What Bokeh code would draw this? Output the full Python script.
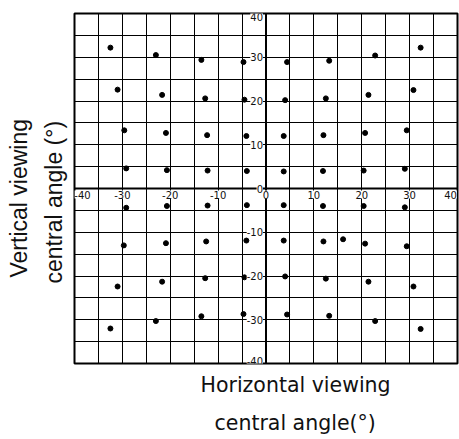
from bokeh.plotting import figure
from bokeh.models import (ColumnDataSource, Grid, FixedTicker, Span, LabelSet, Title)
from bokeh.core.properties import value
from bokeh.embed import file_html
from bokeh.resources import INLINE

# ---- data -------------------------------------------------------------
h_angle = [
    -32.5, -23.0, -13.5, -4.7,
    -31.0, -21.7, -12.7, -4.5,
    -29.6, -20.9, -12.3, -4.1,
    -29.2, -20.7, -12.2, -4.0,
    4.4, 13.2, 22.8, 32.3,
    4.0, 12.5, 21.4, 30.8,
    3.7, 12.0, 20.7, 29.4,
    3.7, 11.9, 20.4, 29.0,
    -29.2, -20.7, -12.2, -4.0,
    -29.7, -20.9, -12.5, -4.1,
    -31.0, -21.7, -12.7, -4.5,
    -32.5, -23.0, -13.5, -4.7,
    3.7, 11.9, 20.4, 29.0,
    3.7, 12.0, 16.1, 20.7, 29.4,
    4.0, 12.5, 21.4, 30.8,
    4.4, 13.2, 22.8, 32.3,
]
v_angle = [
    32.2, 30.5, 29.4, 28.9,
    22.6, 21.4, 20.6, 20.3,
    13.3, 12.7, 12.2, 12.0,
    4.6, 4.2, 4.1, 4.0,
    28.9, 29.2, 30.4, 32.2,
    20.2, 20.6, 21.4, 22.5,
    12.0, 12.2, 12.7, 13.3,
    3.9, 4.0, 4.1, 4.5,
    -4.4, -4.0, -3.9, -3.8,
    -13.0, -12.5, -12.1, -11.9,
    -22.4, -21.3, -20.5, -20.3,
    -32.0, -30.3, -29.2, -28.7,
    -3.8, -4.0, -4.0, -4.3,
    -11.9, -12.1, -11.6, -12.6, -13.2,
    -20.1, -20.6, -21.3, -22.4,
    -28.8, -29.1, -30.3, -32.1,
]
x_ticks = [-40, -30, -20, -10, 0, 10, 20, 30, 40]
y_ticks = [40, 30, 20, 10, 0, -10, -20, -30, -40]
grid_lines = [-40, -35, -30, -25, -20, -15, -10, -5, 0, 5, 10, 15, 20, 25, 30, 35, 40]
x_title = ["Horizontal viewing", "central angle(°)"]
y_title = ["Vertical viewing", "central angle (°)"]

# ---- figure -----------------------------------------------------------
p = figure(width=459, height=439, x_range=(-40, 40), y_range=(-40, 40),
           x_axis_type=None, y_axis_type=None, title=None,
           output_backend="svg", toolbar_location=None,
           min_border_left=74, min_border_right=2,
           min_border_top=13, min_border_bottom=76)
p.background_fill_color = "white"
p.border_fill_color = "white"
p.outline_line_color = "black"
p.outline_line_width = 2

for dim in (0, 1):
    p.add_layout(Grid(dimension=dim, ticker=FixedTicker(ticks=grid_lines),
                      grid_line_color="black", grid_line_width=1))

p.add_layout(Span(location=0, dimension="height", line_color="black", line_width=2))
p.add_layout(Span(location=0, dimension="width", line_color="black", line_width=2))

p.scatter(h_angle, v_angle, size=5, color="black")

# tick labels on the centre axes (kept inside the frame at the ends)
lo, hi = min(x_ticks), max(x_ticks)
xs = ColumnDataSource(dict(x=x_ticks, y=[0] * len(x_ticks), t=[str(v) for v in x_ticks],
                           dx=[8 if v == lo else (-7 if v == hi else 0) for v in x_ticks]))
p.add_layout(LabelSet(x="x", y="y", text="t", source=xs, x_offset="dx", y_offset=-2,
                      text_align="center", text_baseline="top",
                      text_font=value("DejaVu Sans"), text_font_size=value("10px"),
                      text_color="#111111", background_fill_color="white"))
ys = ColumnDataSource(dict(x=[0] * len(y_ticks), y=y_ticks, t=[str(v) for v in y_ticks],
                           dy=[-3 if v == max(y_ticks) else (3 if v == min(y_ticks) else 0) for v in y_ticks]))
p.add_layout(LabelSet(x="x", y="y", text="t", source=ys, x_offset=-3, y_offset="dy",
                      text_align="right", text_baseline="middle",
                      text_font=value("DejaVu Sans"), text_font_size=value("10px"),
                      text_color="#111111", background_fill_color="white"))

# axis titles as side titles
x_offsets = [126, 140]
x_standoffs = [15, 9]
for txt, off, so in zip(x_title, x_offsets, x_standoffs):
    p.add_layout(Title(text=txt, align="left", offset=off, standoff=so,
                       text_font="DejaVu Sans", text_font_size="20.5px",
                       text_font_style="normal", text_color="#111111"), "below")
y_offsets = [86, 80]
y_standoffs = [0, 15]
for txt, off, so in reversed(list(zip(y_title, y_offsets, y_standoffs))):
    p.add_layout(Title(text=txt, align="left", offset=off, standoff=so,
                       text_font="Liberation Sans", text_font_size="23px",
                       text_font_style="normal", text_color="#111111"), "left")

open("out.html", "w").write(file_html(p, INLINE))
